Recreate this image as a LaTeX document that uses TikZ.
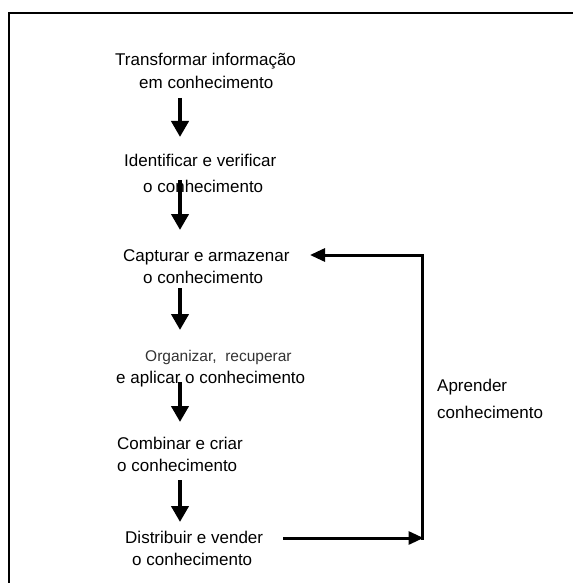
\documentclass[tikz,border=0pt]{standalone}
\usepackage{fontspec}
\setmainfont{Liberation Sans}
\usetikzlibrary{arrows.meta}
\begin{document}
\begin{tikzpicture}[x=1pt,y=-1pt,
  txt/.style={anchor=base west,inner sep=0pt,font=\fontsize{17}{20}\selectfont},
  txtsoft/.style={txt,font=\fontsize{15.5}{18}\selectfont,text=black!80},
  down/.style={line width=4.5pt,-{Triangle[length=16pt,width=17pt]}},
  fb/.style={line width=3pt},
  fbarrow/.style={fb,-{Triangle[length=15pt,width=13pt]}},
  frame/.style={line width=2.2pt}]
\useasboundingbox (0,0) rectangle (573,583);
% page frame (top and left edges)
\draw[frame] (9,583) -- (9,12.7) -- (573,12.7);
% process steps
\node[txt] (s1a) at (115,66) {Transformar informação};
\node[txt] (s1b) at (139,89) {em conhecimento};
\node[txt] (s2a) at (124,166) {Identificar e verificar};
\node[txt] (s2b) at (143,192) {o conhecimento};
\node[txt] (s3a) at (123,261) {Capturar e armazenar};
\node[txt] (s3b) at (143,283) {o conhecimento};
\node[txtsoft] (s4a) at (145,361) {Organizar,\ \ recuperar};
\node[txt] (s4b) at (116,383) {e aplicar o conhecimento};
\node[txt] (s5a) at (117,449) {Combinar e criar};
\node[txt] (s5b) at (117,471) {o conhecimento};
\node[txt] (s6a) at (125,543) {Distribuir e vender};
\node[txt] (s6b) at (132,565) {o conhecimento};
\node[txt] (r1) at (437,391) {Aprender};
\node[txt] (r2) at (437,418) {conhecimento};
% arrow ends on the main axis
\coordinate (a1) at (180,98);  \coordinate (b1) at (180,137);
\coordinate (a2) at (180,180); \coordinate (b2) at (180,230);
\coordinate (a3) at (180,288); \coordinate (b3) at (180,330);
\coordinate (a4) at (180,382); \coordinate (b4) at (180,422);
\coordinate (a5) at (180,480); \coordinate (b5) at (180,522);
\draw[down] (a1) -- (b1);
\draw[down] (a2) -- (b2);
\draw[down] (a3) -- (b3);
\draw[down] (a4) -- (b4);
\draw[down] (a5) -- (b5);
% learning feedback loop
\coordinate (outS) at (283,538);
\coordinate (loopB) at (423.5,538);
\coordinate (loopV) at (422.5,539.5);
\coordinate (loopT) at (422.5,255);
\coordinate (inC) at (310,255);
\draw[fbarrow] (outS) -- (loopB);
\draw[fbarrow] (loopV) -- (loopT) -- (inC);
\end{tikzpicture}
\end{document}
